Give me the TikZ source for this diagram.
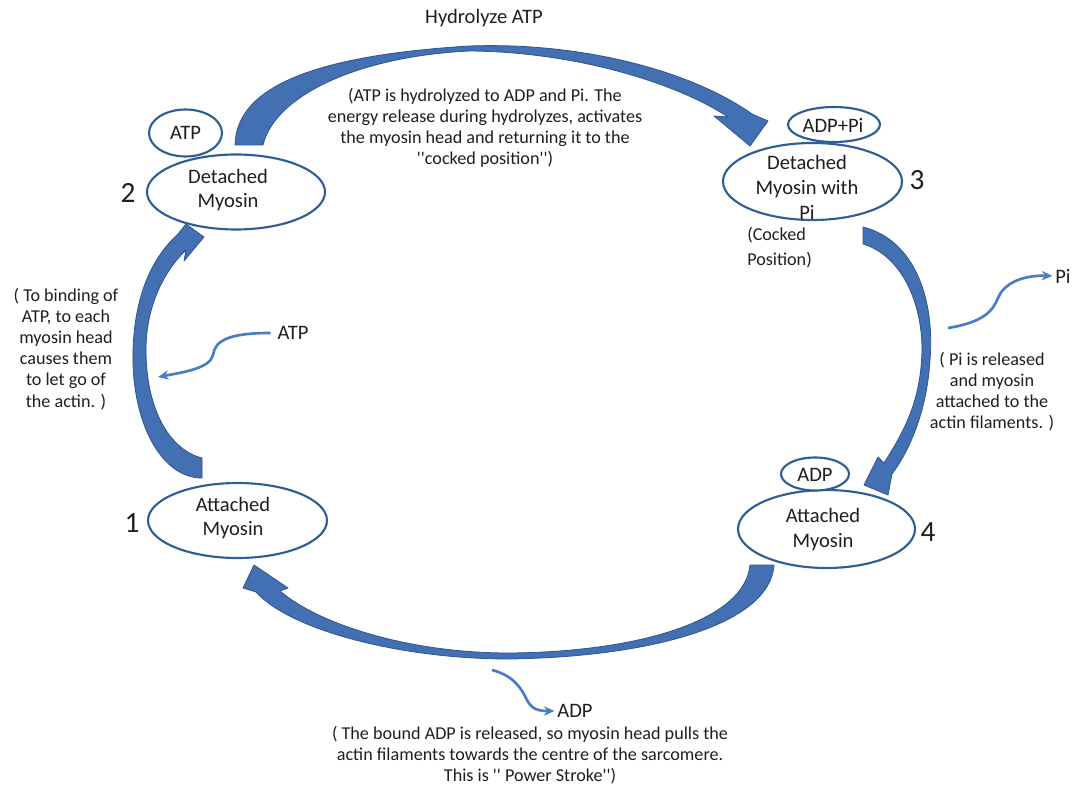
\documentclass[tikz,border=0pt]{standalone}
\usepackage{fontspec}
\setmainfont{Carlito}[Ligatures=TeXOff]
\usetikzlibrary{shapes.geometric,arrows.meta}
\definecolor{ringblue}{HTML}{2F5D94}
\definecolor{bandblue}{HTML}{4270B3}
\definecolor{bandedge}{HTML}{2F5690}
\definecolor{thinblue}{HTML}{4A7EC4}
\definecolor{ink}{HTML}{1E1E1E}
\begin{document}
\begin{tikzpicture}[x=0.75pt,y=-0.75pt,
  ring/.style={ellipse, draw=ringblue, line width=1.6pt, fill=white, inner sep=0pt},
  lbl/.style={text=ink, font=\fontsize{15.4}{18.5}\selectfont, align=center, inner sep=0pt},
  note/.style={text=ink, font=\fontsize{13.6}{15.8}\selectfont, align=center, inner sep=0pt},
  num/.style={text=ink, font=\fontsize{22}{26}\selectfont, inner sep=0pt},
  band/.style={fill=bandblue, draw=bandedge, line width=0.6pt, line join=round},
  thin/.style={draw=thinblue, line width=2pt, -{Stealth[length=8pt,width=7pt]}}]
\useasboundingbox (0,0) rectangle (1077,787);

% thick cycle arrows
% 2 -> 3 (over the top)
\path[band] (235,145) .. controls (236,85) and (320,55) .. (470,46)
  .. controls (580,42) and (690,70) .. (752,114) -- (768,121) -- (750,146) -- (714,116) -- (728,117)
  .. controls (680,85) and (580,52) .. (470,51)
  .. controls (360,56) and (275,95) .. (263,145) -- cycle;
% 3 -> 4 (right side)
\path[band] (863,227) .. controls (915,240) and (935,300) .. (930,360)
  .. controls (927,410) and (910,450) .. (892,474) -- (888,495) -- (864,485) -- (878,457) -- (884,463)
  .. controls (905,430) and (921,400) .. (922,350)
  .. controls (922,300) and (900,255) .. (863,244) -- cycle;
% 4 -> 1 (under the bottom)
\path[band] (774,565) .. controls (770,625) and (650,657) .. (509,659)
  .. controls (400,659) and (290,630) .. (256,592) -- (243,588) -- (254,565) -- (288,588) -- (280,591)
  .. controls (320,625) and (410,653) .. (509,653)
  .. controls (640,652) and (745,620) .. (750,565) -- cycle;
% 1 -> 2 (left side)
\path[band] (202,478) .. controls (160,478) and (131,420) .. (133,350)
  .. controls (135,290) and (155,255) .. (178,234) -- (186,224) -- (204,237) -- (184,261) -- (186,250)
  .. controls (165,270) and (146,305) .. (146,350)
  .. controls (146,410) and (170,450) .. (202,458) -- cycle;

% states of the cycle
\node[ring, minimum width=178pt*0.75, minimum height=75pt*0.75] (s2) at (236,192) {};
\node[ring, minimum width=73pt*0.75, minimum height=47pt*0.75] (atpCap) at (185.5,133) {};
\node[lbl] (atpCapT) at (185.5,133) {ATP};
\node[lbl] (s2T) at (228,190) {Detached\\Myosin};
\node[num] (n2) at (128,193) {2};

\node[ring, minimum width=179pt*0.75, minimum height=77pt*0.75] (s3) at (812.5,181.5) {};
\node[ring, minimum width=92pt*0.75, minimum height=35pt*0.75] (adppiCap) at (834,124.5) {};
\node[lbl] (adppiT) at (833,125) {ADP+Pi};
\node[lbl] (s3T) at (807,187.5) {Detached\\Myosin with\\Pi};
\node[num] (n3) at (917,180) {3};
\node[note, align=left, anchor=west, font=\fontsize{13.6}{18.5}\selectfont] (cocked) at (747,247.5) {(Cocked\\Position)};

\node[ring, minimum width=179pt*0.75, minimum height=75pt*0.75] (s1) at (237.5,520.5) {};
\node[lbl] (s1T) at (233,518) {Attached\\Myosin};
\node[num] (n1) at (132,523) {1};

\node[ring, minimum width=177pt*0.75, minimum height=78pt*0.75] (s4) at (826.5,529) {};
\node[ring, minimum width=68pt*0.75, minimum height=33pt*0.75] (adpCap) at (815,474) {};
\node[lbl] (adpCapT) at (815,475) {ADP};
\node[lbl] (s4T) at (823,529.5) {Attached\\Myosin};
\node[num] (n4) at (928,532) {4};

% explanatory notes
\node[lbl] (hydro) at (484,18) {Hydrolyze ATP};
\node[note] (topNote) at (485,128) {(ATP is hydrolyzed to ADP and Pi. The\\energy release during hydrolyzes, activates\\the myosin head and returning it to the\\''cocked position'')};
\node[note] (leftNote) at (66,349) {( To binding of\\ATP, to each\\myosin head\\causes them\\to let go of\\the actin. )};
\node[note] (rightNote) at (992,391.5) {( Pi is released\\and myosin\\attached to the\\actin filaments. )};
\node[note] (bottomNote) at (530,755.5) {( The bound ADP is released, so myosin head pulls the\\actin filaments towards the centre of the sarcomere.\\This is '' Power Stroke'')};

% small molecules entering and leaving
\node[lbl] (atpIn) at (293,333) {ATP};
\coordinate (atpTip) at (158,377);
\draw[thin, shorten <=5pt] (atpIn.west) .. controls (230,333) and (215,340) .. (213,355)
  .. controls (210,368) and (185,372) .. (atpTip);

\node[lbl] (piOut) at (1063,276) {Pi};
\coordinate (piStart) at (948,328);
\draw[thin, shorten >=2pt] (piStart) .. controls (985,322) and (993,310) .. (998,298)
  .. controls (1003,285) and (1020,275) .. (piOut.west);

\node[lbl] (adpOut) at (575,711) {ADP};
\coordinate (adpStart) at (492,670);
\draw[thin, shorten >=2pt] (adpStart) .. controls (515,676) and (522,690) .. (527,700)
  .. controls (532,710) and (540,711) .. (adpOut.west);
\end{tikzpicture}
\end{document}
